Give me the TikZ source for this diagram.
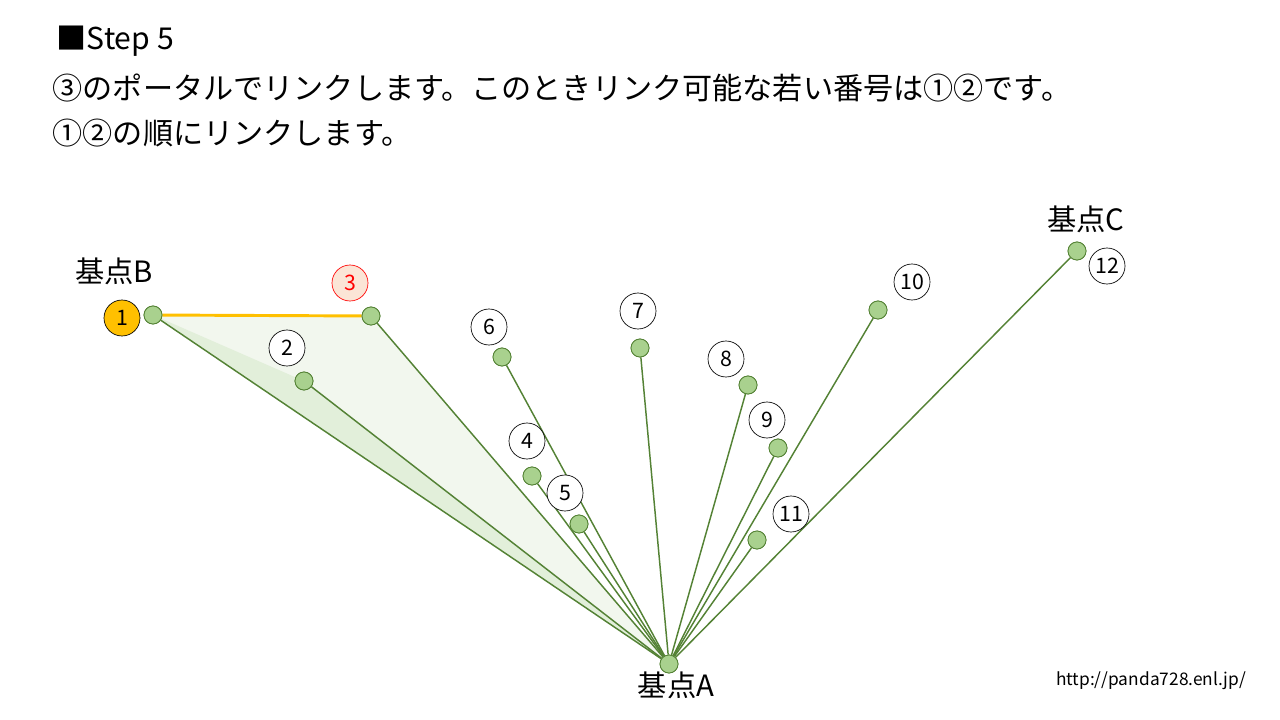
\documentclass[tikz,border=0pt]{standalone}
\usepackage{fontspec}
\setmainfont{Noto Sans CJK JP}
\definecolor{lg}{RGB}{84,130,53}
\definecolor{dotf}{RGB}{169,209,142}
\definecolor{fa}{RGB}{242,247,238}
\definecolor{fb}{RGB}{226,239,218}
\definecolor{org}{RGB}{255,192,0}
\definecolor{pk}{RGB}{251,229,214}
\begin{document}
\begin{tikzpicture}[x=0.75pt,y=-0.75pt,
  dot/.style={circle,draw=lg,fill=dotf,line width=0.6pt,minimum size=13.5pt,inner sep=0pt},
  lab/.style={circle,draw=black,fill=white,line width=0.5pt,minimum size=27pt,inner sep=0pt,font=\fontsize{16}{16}\selectfont},
  ln/.style={draw=lg,line width=1.1pt},
  big/.style={font=\fontsize{22}{22}\selectfont},
  head/.style={anchor=west,font=\fontsize{22.6}{22.6}\selectfont}]
\useasboundingbox (0,0) rectangle (1280,720);
\node[head] (t1) at (52,41) {■Step 5};
\node[head] (t2) at (48,88) {③のポータルでリンクします。このときリンク可能な若い番号は①②です。};
\node[head] (t3) at (48,133) {①②の順にリンクします。};
\coordinate (cB) at (153,315);
\coordinate (c3) at (371,316);
\coordinate (c2) at (304,381);
\coordinate (cA) at (669,664);
\fill[fa] (cB) -- (c3) -- (cA) -- cycle;
\fill[fb] (cB) -- (c2) -- (cA) -- cycle;
\node[dot] (A) at (cA) {};
\node[dot] (B) at (cB) {};
\node[dot] (C) at (1077,251) {};
\node[dot] (p2) at (c2) {};
\node[dot] (p3) at (c3) {};
\node[dot] (p4) at (532,476) {};
\node[dot] (p5) at (579,524) {};
\node[dot] (p6) at (502,357) {};
\node[dot] (p7) at (640,348) {};
\node[dot] (p8) at (748,385) {};
\node[dot] (p9) at (778,448) {};
\node[dot] (p10) at (878,310) {};
\node[dot] (p11) at (757,540) {};
\foreach \n in {B,C,p2,p3,p4,p5,p6,p7,p8,p9,p10,p11}{\draw[ln] (\n) -- (A);}
\draw[org,line width=2.2pt] (B) -- (p3);
\foreach \n in {A,B,C,p2,p3,p4,p5,p6,p7,p8,p9,p10,p11}{\node[dot] at (\n) {};}
\node[lab,fill=org] (l1) at (122,318) {1};
\node[lab] (l2) at (287,348) {2};
\node[lab,draw=red,fill=pk,text=red] (l3) at (350,283) {3};
\node[lab] (l4) at (527,441) {4};
\node[lab] (l5) at (565,493) {5};
\node[lab] (l6) at (489,327) {6};
\node[lab] (l7) at (638,311) {7};
\node[lab] (l8) at (726,359) {8};
\node[lab] (l9) at (767,420) {9};
\node[lab] (l10) at (912,282) {10};
\node[lab] (l11) at (791,514) {11};
\node[lab] (l12) at (1107,266) {12};
\node[big] (nB) at (114,271) {基点B};
\node[big] (nC) at (1086,219) {基点C};
\node[big] (nA) at (676,685) {基点A};
\node[font=\fontsize{13}{13}\selectfont] (url) at (1151,681) {http://panda728.enl.jp/};
\end{tikzpicture}
\end{document}
